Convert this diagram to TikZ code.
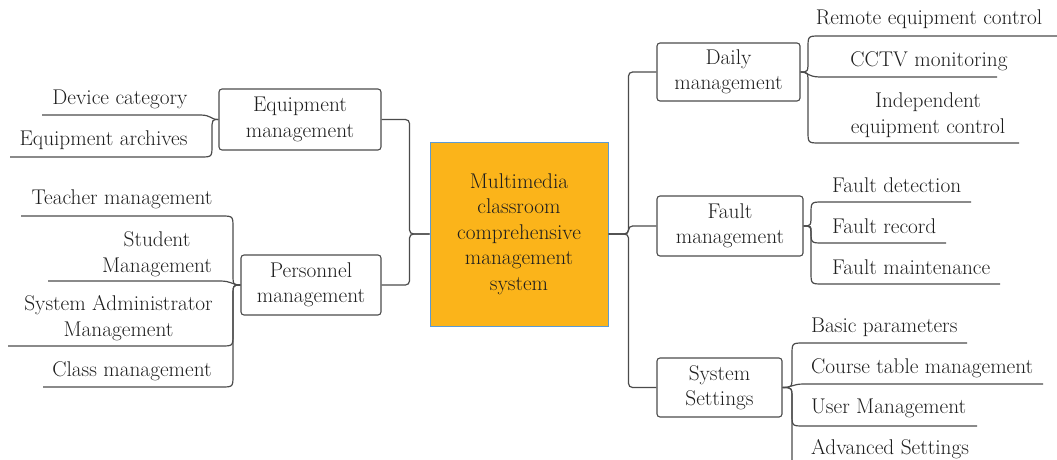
\documentclass[tikz,border=0pt]{standalone}
\definecolor{cfill}{RGB}{251,180,26}
\definecolor{cborder}{RGB}{91,155,213}
\definecolor{ink}{RGB}{30,30,30}
\definecolor{wire}{RGB}{75,75,75}
\begin{document}
\begin{tikzpicture}[x=1pt,y=-1pt,
  txt/.style={inner sep=0pt,align=center,text=ink,font=\fontsize{21.3}{25.5}\selectfont},
  box/.style={txt,draw=wire,line width=1.1pt,rounded corners=3pt},
  cbox/.style={txt,draw=cborder,fill=cfill,line width=1pt},
  con/.style={draw=wire,line width=1.2pt},
  trunk/.style={con,rounded corners=4pt}]
\useasboundingbox (0,0) rectangle (1057,460);
\clip (0,0) rectangle (1057,460);
% central and branch boxes
\node[cbox,minimum width=178pt,minimum height=184pt] (C) at (519,234) {Multimedia\\classroom\\comprehensive\\management\\system};
\node[box,minimum width=162pt,minimum height=61pt] (E) at (300,119.5) {Equipment\\management};
\node[box,minimum width=140pt,minimum height=60pt] (P) at (311,285) {Personnel\\management};
\node[box,minimum width=143pt,minimum height=58pt] (D) at (728.5,72) {Daily\\management};
\node[box,minimum width=146pt,minimum height=60pt] (F) at (730,226) {Fault\\management};
\node[box,minimum width=125pt,minimum height=59pt] (S) at (719.5,387.5) {System\\Settings};
% trunks
\draw[trunk] (C.west) -- ++(-20,0) |- (E.east);
\draw[trunk] (C.west) -- ++(-20,0) |- (P.east);
\draw[trunk] (C.east) -- ++(20,0) |- (D.west);
\draw[trunk] (C.east) -- ++(20,0) |- (F.west);
\draw[trunk] (C.east) -- ++(20,0) |- (S.west);
% left leaf texts
\node[txt] (l1) at (120,99) {Device category};
\node[txt] (l2) at (103.5,140) {Equipment archives};
\node[txt] (l3) at (122,199) {Teacher management};
\node[txt] (l4) at (157,254) {Student\\Management};
\node[txt] (l5) at (118.5,318) {System Administrator\\Management};
\node[txt] (l6) at (132,371) {Class management};
% right leaf texts
\node[txt] (r1) at (929,19) {Remote equipment control};
\node[txt] (r2) at (929,61) {CCTV monitoring};
\node[txt] (r3) at (928,115) {Independent\\equipment control};
\node[txt,anchor=west] (r4) at (832,185) {Fault detection};
\node[txt,anchor=west] (r5) at (832,226) {Fault record};
\node[txt,anchor=west] (r6) at (832,267) {Fault maintenance};
\node[txt,anchor=west] (r7) at (811,327) {Basic parameters};
\node[txt,anchor=west] (r8) at (811,368) {Course table management};
\node[txt,anchor=west] (r9) at (811,408) {User Management};
\node[txt,anchor=west] (r10) at (811,449) {Advanced Settings};
% left leaf connectors
\draw[con] (E.west) .. controls (210,119.5) and (212,115) .. (200,115) -- (42,115);
\draw[con] (E.west) .. controls (212,119.5) .. (212,131) -- (212,145) .. controls (212,157) .. (200,157) -- (10,157);
\draw[con] (P.west) .. controls (233,285) .. (233,273) -- (233,228) .. controls (233,216) .. (221,216) -- (21,216);
\draw[con] (P.west) .. controls (232,285) and (232,281) .. (220,281) -- (48,281);
\draw[con] (P.west) .. controls (233,285) .. (233,297) -- (233,334) .. controls (233,346) .. (221,346) -- (8,346);
\draw[con] (P.west) .. controls (233,285) .. (233,297) -- (233,375) .. controls (233,387) .. (221,387) -- (43,387);
% right leaf connectors
\draw[con] (D.east) .. controls (808,72) .. (808,60) -- (808,48) .. controls (808,36) .. (820,36) -- (1057,36);
\draw[con] (D.east) .. controls (808,72) and (808,77) .. (820,77) -- (997,77);
\draw[con] (D.east) .. controls (808,72) .. (808,84) -- (808,131) .. controls (808,143) .. (820,143) -- (1019,143);
\draw[con] (F.east) .. controls (811,226) .. (811,214) .. controls (811,202) .. (823,202) -- (971,202);
\draw[con] (F.east) .. controls (811,226) .. (811,231) .. controls (811,243) .. (823,243) -- (946,243);
\draw[con] (F.east) .. controls (811,226) .. (811,238) -- (811,272) .. controls (811,284) .. (823,284) -- (1000,284);
\draw[con] (S.east) .. controls (792,387.5) .. (792,375.5) -- (792,355) .. controls (792,343) .. (804,343) -- (967,343);
\draw[con] (S.east) .. controls (792,387.5) and (792,384) .. (804,384) -- (1043,384);
\draw[con] (S.east) .. controls (792,387.5) .. (792,399.5) -- (792,414) .. controls (792,426) .. (804,426) -- (977,426);
\draw[con] (S.east) .. controls (792,387.5) .. (792,399.5) -- (792,470);
\end{tikzpicture}
\end{document}
